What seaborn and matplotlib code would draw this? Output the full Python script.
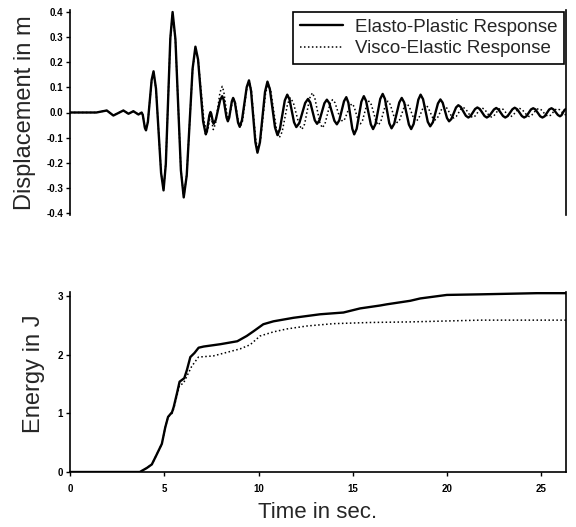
import matplotlib
matplotlib.use("Agg")
import matplotlib.pyplot as plt
import seaborn as sns
import pandas as pd

# ---- data ----
# Elasto-plastic displacement: turning points
ep_t = [0, 1.4, 1.95, 2.3, 2.83, 3.1, 3.36, 3.63, 3.8, 4.03, 4.43, 4.96, 5.44, 6.03, 6.65,
        7.2, 7.45, 7.62, 8.07, 8.37, 8.65, 9.0, 9.49, 9.94, 10.47, 11.0, 11.52, 12.0, 12.62,
        13.1, 13.62, 14.15, 14.65, 15.07, 15.58, 16.07, 16.58, 17.05, 17.59, 18.09, 18.59,
        19.1, 19.64, 20.1, 20.59, 21.12, 21.6, 22.1, 22.6, 23.08, 23.58, 24.08, 24.56, 25.05,
        25.53, 25.98, 26.3]
ep_disp = [0, 0, 0.008, -0.012, 0.008, -0.005, 0.005, -0.008, 0.0, -0.071, 0.164, -0.31,
           0.40, -0.338, 0.262, -0.087, 0.002, -0.045, 0.065, -0.035, 0.058, -0.057, 0.128,
           -0.16, 0.123, -0.09, 0.071, -0.058, 0.054, -0.045, 0.051, -0.047, 0.061, -0.087,
           0.065, -0.066, 0.074, -0.063, 0.058, -0.066, 0.071, -0.055, 0.052, -0.035, 0.029,
           -0.02, 0.02, -0.02, 0.018, -0.02, 0.019, -0.02, 0.017, -0.02, 0.017, -0.015, 0.014]
# Elasto-plastic displacement: points on the flanks of each swing
ep_flank_t = [3.86, 3.97, 4.13, 4.33, 4.56, 4.83, 5.08, 5.32, 5.59, 5.88, 6.19, 6.50, 6.79,
              7.06, 7.26, 7.39, 7.49, 7.58, 7.73, 7.96, 8.15, 8.30, 8.44, 8.58, 8.74, 8.91,
              9.12, 9.37, 9.60, 9.83, 10.07, 10.34, 10.60, 10.87, 11.13, 11.39, 11.64, 11.88,
              12.16, 12.47, 12.74, 12.98, 13.23, 13.49, 13.75, 14.02, 14.28, 14.53, 14.76,
              14.97, 15.20, 15.45, 15.70, 15.95, 16.20, 16.45, 16.70, 16.93, 17.19, 17.46,
              17.72, 17.97, 18.22, 18.47, 18.72, 18.97, 19.24, 19.51, 19.76, 19.99, 20.22,
              20.47, 20.72, 20.99, 21.24, 21.48, 21.73, 21.98, 22.23, 22.48, 22.72, 22.96,
              23.21, 23.46, 23.71, 23.96, 24.20, 24.44, 24.68, 24.93, 25.17, 25.41, 25.64,
              25.87, 26.06, 26.22]
ep_flank_disp = [-0.010, -0.061, -0.037, 0.130, 0.095, -0.241, -0.206, 0.296, 0.292, -0.230,
                 -0.250, 0.174, 0.211, -0.036, -0.074, -0.011, -0.005, -0.038, -0.029, 0.049,
                 0.050, -0.020, -0.021, 0.044, 0.041, -0.040, -0.030, 0.101, 0.086, -0.118,
                 -0.119, 0.082, 0.092, -0.059, -0.066, 0.048, 0.052, -0.039, -0.042, 0.038,
                 0.040, -0.031, -0.031, 0.037, 0.037, -0.033, -0.031, 0.045, 0.039, -0.065,
                 -0.065, 0.043, 0.046, -0.047, -0.046, 0.054, 0.054, -0.043, -0.045, 0.040,
                 0.040, -0.048, -0.046, 0.051, 0.053, -0.037, -0.039, 0.036, 0.039, -0.022,
                 -0.026, 0.020, 0.022, -0.013, -0.014, 0.014, 0.014, -0.014, -0.014, 0.012,
                 0.012, -0.014, -0.014, 0.013, 0.013, -0.014, -0.015, 0.012, 0.012, -0.015,
                 -0.015, 0.012, 0.012, -0.010, -0.011, 0.010]

# Visco-elastic displacement: turning points
ve_t = [0, 1.4, 1.95, 2.3, 2.83, 3.1, 3.36, 3.63, 3.8, 4.03, 4.43, 4.96, 5.44, 6.03, 6.65,
        7.25, 7.48, 7.6, 8.07, 8.4, 8.68, 9.03, 9.5, 9.97, 10.5, 11.1, 11.68, 12.3, 12.85,
        13.38, 13.92, 14.45, 14.95, 15.4, 15.85, 16.35, 16.85, 17.35, 17.85, 18.35, 18.85,
        19.35, 19.85, 20.35, 20.85, 21.35, 21.85, 22.35, 22.85, 23.35, 23.85, 24.35, 24.85,
        25.35, 25.85, 26.3]
ve_disp = [0, 0, 0.008, -0.012, 0.008, -0.005, 0.005, -0.008, 0.0, -0.07, 0.16, -0.305,
           0.395, -0.335, 0.255, -0.08, -0.01, -0.068, 0.104, -0.025, 0.055, -0.06, 0.125,
           -0.15, 0.115, -0.1, 0.058, -0.067, 0.078, -0.061, 0.051, -0.035, 0.035, -0.045,
           0.045, -0.05, 0.045, -0.04, 0.035, -0.035, 0.03, -0.03, 0.025, -0.022, 0.02,
           -0.02, 0.018, -0.018, 0.017, -0.017, 0.016, -0.016, 0.016, -0.015, 0.015, -0.01]
# Visco-elastic displacement: flank points
ve_flank_t = [3.86, 3.97, 4.13, 4.33, 4.56, 4.83, 5.08, 5.32, 5.59, 5.88, 6.19, 6.50, 6.80,
              7.10, 7.31, 7.42, 7.51, 7.57, 7.72, 7.95, 8.15, 8.32, 8.47, 8.61, 8.77, 8.94,
              9.15, 9.38, 9.62, 9.85, 10.10, 10.37, 10.65, 10.95, 11.25, 11.54, 11.84, 12.15,
              12.44, 12.71, 12.98, 13.25, 13.52, 13.79, 14.05, 14.32, 14.58, 14.83, 15.06,
              15.29, 15.51, 15.74, 15.98, 16.23, 16.48, 16.73, 16.98, 17.23, 17.48, 17.73,
              17.98, 18.23, 18.48, 18.73, 18.98, 19.23, 19.48, 19.73, 19.98, 20.23, 20.48,
              20.73, 20.98, 21.23, 21.48, 21.73, 21.98, 22.23, 22.48, 22.73, 22.98, 23.23,
              23.48, 23.73, 23.98, 24.23, 24.48, 24.73, 24.98, 25.23, 25.48, 25.73, 25.96,
              26.19]
ve_flank_disp = [-0.010, -0.060, -0.036, 0.126, 0.093, -0.238, -0.203, 0.293, 0.288, -0.228,
                 -0.248, 0.169, 0.206, -0.031, -0.070, -0.020, -0.018, -0.060, -0.043, 0.079,
                 0.085, -0.006, -0.013, 0.043, 0.038, -0.043, -0.033, 0.098, 0.085, -0.110,
                 -0.111, 0.076, 0.084, -0.069, -0.077, 0.035, 0.040, -0.049, -0.046, 0.057,
                 0.058, -0.041, -0.045, 0.035, 0.039, -0.023, -0.025, 0.025, 0.024, -0.034,
                 -0.032, 0.032, 0.031, -0.036, -0.036, 0.031, 0.032, -0.028, -0.029, 0.024,
                 0.025, -0.025, -0.025, 0.020, 0.021, -0.021, -0.022, 0.017, 0.018, -0.015,
                 -0.016, 0.014, 0.014, -0.014, -0.014, 0.012, 0.013, -0.013, -0.013, 0.012,
                 0.012, -0.012, -0.012, 0.011, 0.011, -0.011, -0.011, 0.011, 0.011, -0.010,
                 -0.011, 0.011, 0.011, -0.006]

# Energy curves
ep_et = [0, 3.7, 4.08, 4.34, 4.57, 4.87, 5.05, 5.2, 5.41, 5.5, 5.67, 5.81, 6.06, 6.2, 6.38,
         6.6, 6.82, 7.09, 7.98, 8.87, 9.37, 9.73, 10.25, 10.79, 11.85, 13.26, 14.5, 15.38,
         16.45, 16.8, 18.04, 18.57, 19.98, 21.75, 24.76, 26.3]
ep_energy = [0, 0, 0.07, 0.13, 0.28, 0.48, 0.76, 0.94, 1.02, 1.11, 1.34, 1.54, 1.6, 1.74,
             1.96, 2.03, 2.12, 2.14, 2.18, 2.23, 2.32, 2.4, 2.52, 2.57, 2.63, 2.69, 2.72,
             2.79, 2.84, 2.86, 2.92, 2.96, 3.02, 3.03, 3.05, 3.05]

ve_et = [0, 3.7, 4.08, 4.34, 4.57, 4.87, 5.05, 5.2, 5.41, 5.5, 5.67, 5.81, 6.01, 6.45, 6.81,
         7.6, 8.31, 9.02, 9.55, 10.08, 10.79, 11.5, 12.56, 13.97, 15.9, 18.04, 21.75, 26.3]
ve_energy = [0, 0, 0.07, 0.13, 0.28, 0.48, 0.76, 0.94, 1.0, 1.08, 1.3, 1.48, 1.51, 1.8,
             1.96, 1.98, 2.04, 2.1, 2.17, 2.32, 2.39, 2.44, 2.49, 2.53, 2.55, 2.56, 2.59, 2.59]

disp_ticks = [-0.4, -0.3, -0.2, -0.1, 0.0, 0.1, 0.2, 0.3, 0.4]
disp_ticklabels = ["-0.4", "-0.3", "-0.2", "-0.1", "0.0", "0.1", "0.2", "0.3", "0.4"]
energy_ticks = [0, 1, 2, 3]
time_ticks = [0, 5, 10, 15, 20, 25]

label_ep = "Elasto-Plastic Response"
label_ve = "Visco-Elastic Response"

# ---- style ----
sns.set_style("ticks")
plt.rcParams['font.family'] = ['Liberation Sans', 'DejaVu Sans']

fig = plt.figure(figsize=(5.76, 5.27), dpi=100)
ax1 = fig.add_axes([70 / 576, 1 - 215 / 527, 496 / 576, 205 / 527])
ax2 = fig.add_axes([70 / 576, 1 - 472 / 527, 496 / 576, 180 / 527])

solid_kw = dict(color="black", linewidth=1.7, solid_joinstyle="round")
dot_kw = dict(color="black", linewidth=1.1, linestyle=(0, (1, 1.6)))

df_ep = pd.DataFrame({"t": ep_t + ep_flank_t, "d": ep_disp + ep_flank_disp}).sort_values("t")
df_ve = pd.DataFrame({"t": ve_t + ve_flank_t, "d": ve_disp + ve_flank_disp}).sort_values("t")
sns.lineplot(data=df_ve, x="t", y="d", ax=ax1, estimator=None, label=label_ve, **dot_kw)
sns.lineplot(data=df_ep, x="t", y="d", ax=ax1, estimator=None, label=label_ep, **solid_kw)

df_epe = pd.DataFrame({"t": ep_et, "e": ep_energy})
df_vee = pd.DataFrame({"t": ve_et, "e": ve_energy})
sns.lineplot(data=df_vee, x="t", y="e", ax=ax2, estimator=None, **dot_kw)
sns.lineplot(data=df_epe, x="t", y="e", ax=ax2, estimator=None, **solid_kw)

xmax = 26.3
# top axes
ax1.set_xlim(0, xmax)
ax1.set_ylim(-0.408, 0.408)
ax1.set_xticks([])
ax1.set_yticks(disp_ticks)
ax1.set_yticklabels(disp_ticklabels)
ax1.set_xlabel("")
ax1.set_ylabel("Displacement in m", fontsize=17)
ax1.yaxis.set_label_coords(-0.068, 0.5)
for s in ["top", "bottom"]:
    ax1.spines[s].set_visible(False)
for s in ["left", "right"]:
    ax1.spines[s].set_linewidth(1.2)
    ax1.spines[s].set_color("black")

# bottom axes
ax2.set_xlim(0, xmax)
ax2.set_ylim(0, 3.07)
ax2.set_xticks(time_ticks)
ax2.set_yticks(energy_ticks)
ax2.set_xlabel("Time in sec.", fontsize=16)
ax2.set_ylabel("Energy in J", fontsize=17)
ax2.yaxis.set_label_coords(-0.05, 0.544)
ax2.xaxis.set_label_coords(0.5, -0.165)
ax2.spines["top"].set_visible(False)
for s in ["left", "right", "bottom"]:
    ax2.spines[s].set_linewidth(1.2)
    ax2.spines[s].set_color("black")

for ax in (ax1, ax2):
    ax.tick_params(axis="both", length=3, width=1, colors="black", pad=2,
                   labelsize=7)
    for lab in ax.get_xticklabels() + ax.get_yticklabels():
        lab.set_fontweight("bold")
ax2.tick_params(axis="x", pad=6)

# legend
handles, labels = ax1.get_legend_handles_labels()
order = [labels.index(label_ep), labels.index(label_ve)]
leg = ax1.legend([handles[i] for i in order], [labels[i] for i in order],
                 loc="upper right", bbox_to_anchor=(1.0, 1.0), borderaxespad=0.1,
                 fontsize=13.5, handlelength=2.3, handletextpad=0.65,
                 labelspacing=0.25, borderpad=0.35, fancybox=False,
                 framealpha=1, edgecolor="black")
leg.get_frame().set_linewidth(1.2)

fig.savefig("out.png", dpi=100)
